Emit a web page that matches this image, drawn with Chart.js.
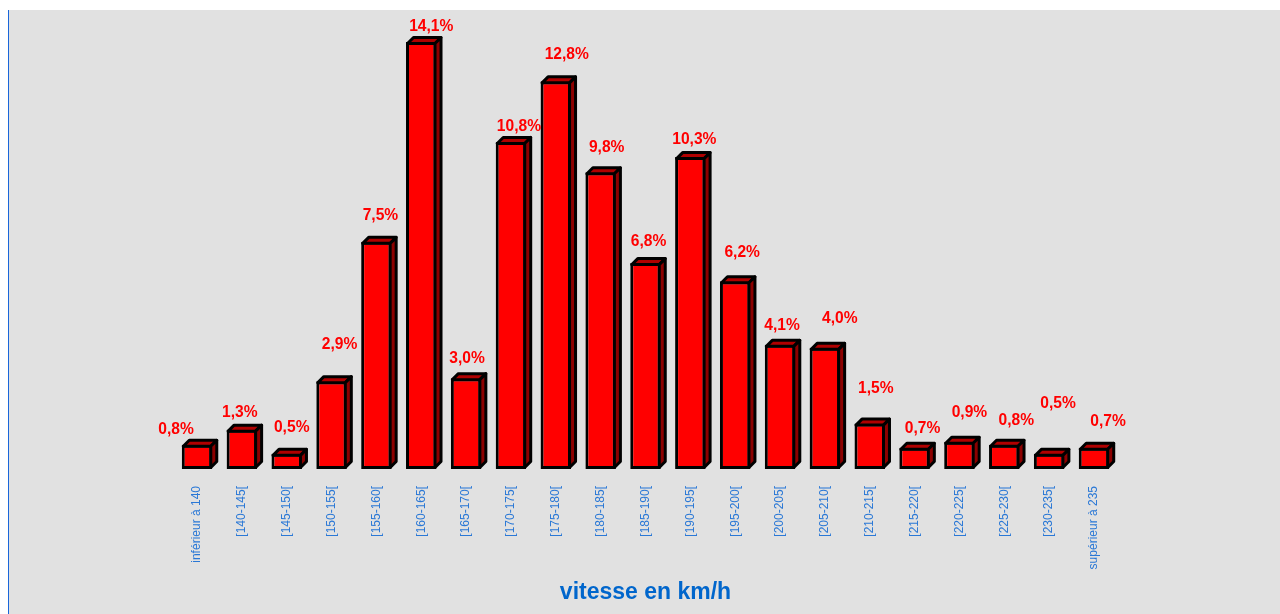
<!DOCTYPE html>
<html lang="fr">
<head>
<meta charset="utf-8">
<title>Répartition des vitesses</title>
<script src="https://cdn.jsdelivr.net/npm/chart.js@4.4.1/dist/chart.umd.min.js"></script>
<style>
  html, body { margin: 0; padding: 0; background: #ffffff; }
  #frame {
    position: absolute; left: 8px; top: 10px;
    width: 1271px; height: 604px;
    background: #e1e1e1;
    border-left: 1px solid #1a66d9;
  }
  #chart { display: block; }
</style>
</head>
<body>
<div id="frame"><canvas id="chart" width="1271" height="604"></canvas></div>
<script>
// Speed classes (km/h) and share of measured vehicles in each class (%)
const categories = [
  "inférieur à 140", "[140-145[", "[145-150[", "[150-155[", "[155-160[",
  "[160-165[", "[165-170[", "[170-175[", "[175-180[", "[180-185[",
  "[185-190[", "[190-195[", "[195-200[", "[200-205[", "[205-210[",
  "[210-215[", "[215-220[", "[220-225[", "[225-230[", "[230-235[",
  "supérieur à 235"
];
const shares = [
  0.8, 1.3, 0.5, 2.9, 7.5, 14.1, 3.0, 10.8, 12.8, 9.8,
  6.8, 10.3, 6.2, 4.1, 4.0, 1.5, 0.7, 0.9, 0.8, 0.5, 0.7
];
const axisTitle = "vitesse en km/h";

// Extruded look: top and right faces of each bar + value labels
const BOX_DEPTH = 6;
const LABEL_NUDGE = [
  [-21, -16], [-2, -18], [5, -27], [8, -38], [4, -27], [10, -17], [1, -21],
  [8, -17], [11, -28], [6, -26], [3, -23], [4, -19], [7, -30], [2, -20],
  [15, -30], [6, -36], [8, -20], [10, -30], [12, -25], [9, -51], [14, -27]
];

const boxPlugin = {
  id: 'boxBars',
  afterDatasetsDraw(chart) {
    const ctx = chart.ctx;
    const meta = chart.getDatasetMeta(0);
    const d = BOX_DEPTH;
    ctx.save();
    meta.data.forEach((bar, i) => {
      const p = bar.getProps(['x', 'y', 'base', 'width'], true);
      const l = p.x - p.width / 2 + 1.5;
      const r = p.x + p.width / 2 - 1.5;
      const t = p.y + 1.5;
      const b = p.base - 1.5;
      ctx.lineWidth = 3;
      ctx.lineJoin = 'round';
      ctx.strokeStyle = '#000000';
      // top face
      ctx.beginPath();
      ctx.moveTo(l, t);
      ctx.lineTo(l + d, t - d);
      ctx.lineTo(r + d, t - d);
      ctx.lineTo(r, t);
      ctx.closePath();
      ctx.fillStyle = '#b00000';
      ctx.fill();
      ctx.stroke();
      // right face
      ctx.beginPath();
      ctx.moveTo(r, t);
      ctx.lineTo(r + d, t - d);
      ctx.lineTo(r + d, b - d);
      ctx.lineTo(r, b);
      ctx.closePath();
      ctx.fillStyle = '#8c0000';
      ctx.fill();
      ctx.stroke();
    });
    // value labels
    ctx.font = 'bold 15.6px "Liberation Sans", Arial, sans-serif';
    ctx.fillStyle = '#ff0000';
    ctx.textAlign = 'center';
    ctx.textBaseline = 'alphabetic';
    meta.data.forEach((bar, i) => {
      const p = bar.getProps(['x', 'y'], true);
      const n = LABEL_NUDGE[i] || [6, -22];
      const txt = shares[i].toFixed(1).replace('.', ',') + '%';
      ctx.fillText(txt, p.x + n[0], p.y + n[1] + 5.6);
    });
    ctx.restore();
  }
};

new Chart(document.getElementById('chart'), {
  type: 'bar',
  data: {
    labels: categories,
    datasets: [{
      data: shares,
      backgroundColor: '#ff0000',
      borderColor: '#000000',
      borderWidth: 3,
      borderSkipped: false,
      barPercentage: 0.68,
      categoryPercentage: 1.0
    }]
  },
  options: {
    responsive: false,
    animation: false,
    events: [],
    layout: { padding: { left: 165.6, right: 163.6, top: 32, bottom: 4 } },
    plugins: {
      legend: { display: false },
      tooltip: { enabled: false },
      title: { display: false }
    },
    scales: {
      x: {
        grid: { display: false, drawTicks: false },
        border: { display: false },
        ticks: {
          autoSkip: false,
          minRotation: 90,
          maxRotation: 90,
          padding: 17,
          color: '#2a78d6',
          font: { family: '"Liberation Sans", Arial, sans-serif', size: 12 }
        },
        title: {
          display: true,
          text: axisTitle,
          color: '#0066cc',
          font: { family: '"Liberation Sans", Arial, sans-serif', size: 23, weight: 'bold' },
          padding: { top: 4, bottom: 4 }
        },
        afterFit(scale) { scale.height = 141; }
      },
      y: {
        display: false,
        min: 0,
        max: 14.1
      }
    }
  },
  plugins: [boxPlugin]
});
</script>
</body>
</html>
